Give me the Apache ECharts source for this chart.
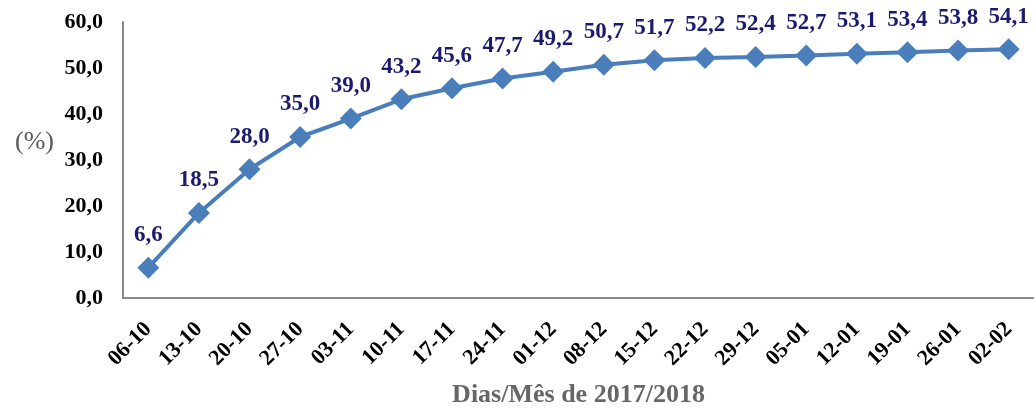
<!DOCTYPE html>
<html>
<head>
<meta charset="utf-8">
<script src="https://cdn.jsdelivr.net/npm/echarts@6/dist/echarts.min.js"></script>
<style>
  html, body { margin: 0; padding: 0; background: #fff; }
  #chart { width: 1034px; height: 408px; }
</style>
</head>
<body>
<div id="chart"></div>
<script>
const weeks = ['06-10', '13-10', '20-10', '27-10', '03-11', '10-11', '17-11', '24-11', '01-12',
  '08-12', '15-12', '22-12', '29-12', '05-01', '12-01', '19-01', '26-01', '02-02']
const percent = [6.6, 18.5, 28.0, 35.0, 39.0, 43.2, 45.6, 47.7, 49.2,
  50.7, 51.7, 52.2, 52.4, 52.7, 53.1, 53.4, 53.8, 54.1]
const yTicks = [0, 10, 20, 30, 40, 50, 60]

const fmt = v => v.toFixed(1).replace('.', ',')
const serif = '"Liberation Serif", "Times New Roman", serif'

const chart = echarts.init(document.getElementById('chart'))

chart.setOption({
  animation: false,
  title: {
    text: '(%)',
    left: 10,
    top: 124,
    textStyle: { fontFamily: serif, fontWeight: 'normal', fontSize: 26, color: '#595959' }
  },
  grid: { left: 123, right: 0, top: 22, bottom: 110, outerBoundsMode: 'none', containLabel: false },
  xAxis: {
    type: 'category',
    data: weeks,
    name: 'Dias/Mês de 2017/2018',
    nameLocation: 'middle',
    nameGap: 84,
    nameTextStyle: { fontFamily: serif, fontWeight: 'bold', fontSize: 26, color: '#666666' },
    axisLine: { lineStyle: { color: '#898989', width: 2 } },
    axisTick: { show: false },
    axisLabel: {
      rotate: 45,
      interval: 0,
      margin: 28,
      fontFamily: serif,
      fontWeight: 'bold',
      fontSize: 22,
      color: '#000'
    }
  },
  yAxis: {
    type: 'value',
    min: yTicks[0],
    max: yTicks[yTicks.length - 1],
    interval: 10,
    axisLine: { show: true, lineStyle: { color: '#898989', width: 2 } },
    axisTick: { show: false },
    splitLine: { show: false },
    axisLabel: {
      margin: 20,
      formatter: v => fmt(v),
      fontFamily: serif,
      fontWeight: 'bold',
      fontSize: 22,
      color: '#000'
    }
  },
  series: [{
    type: 'line',
    data: percent,
    symbol: 'diamond',
    symbolSize: 22,
    lineStyle: { color: '#4a7ebb', width: 4 },
    itemStyle: { color: '#4a7ebb' },
    label: {
      show: true,
      position: 'top',
      distance: 10,
      formatter: p => fmt(p.value),
      fontFamily: serif,
      fontWeight: 'bold',
      fontSize: 23,
      color: '#1a1a6e'
    }
  }]
})
</script>
</body>
</html>
